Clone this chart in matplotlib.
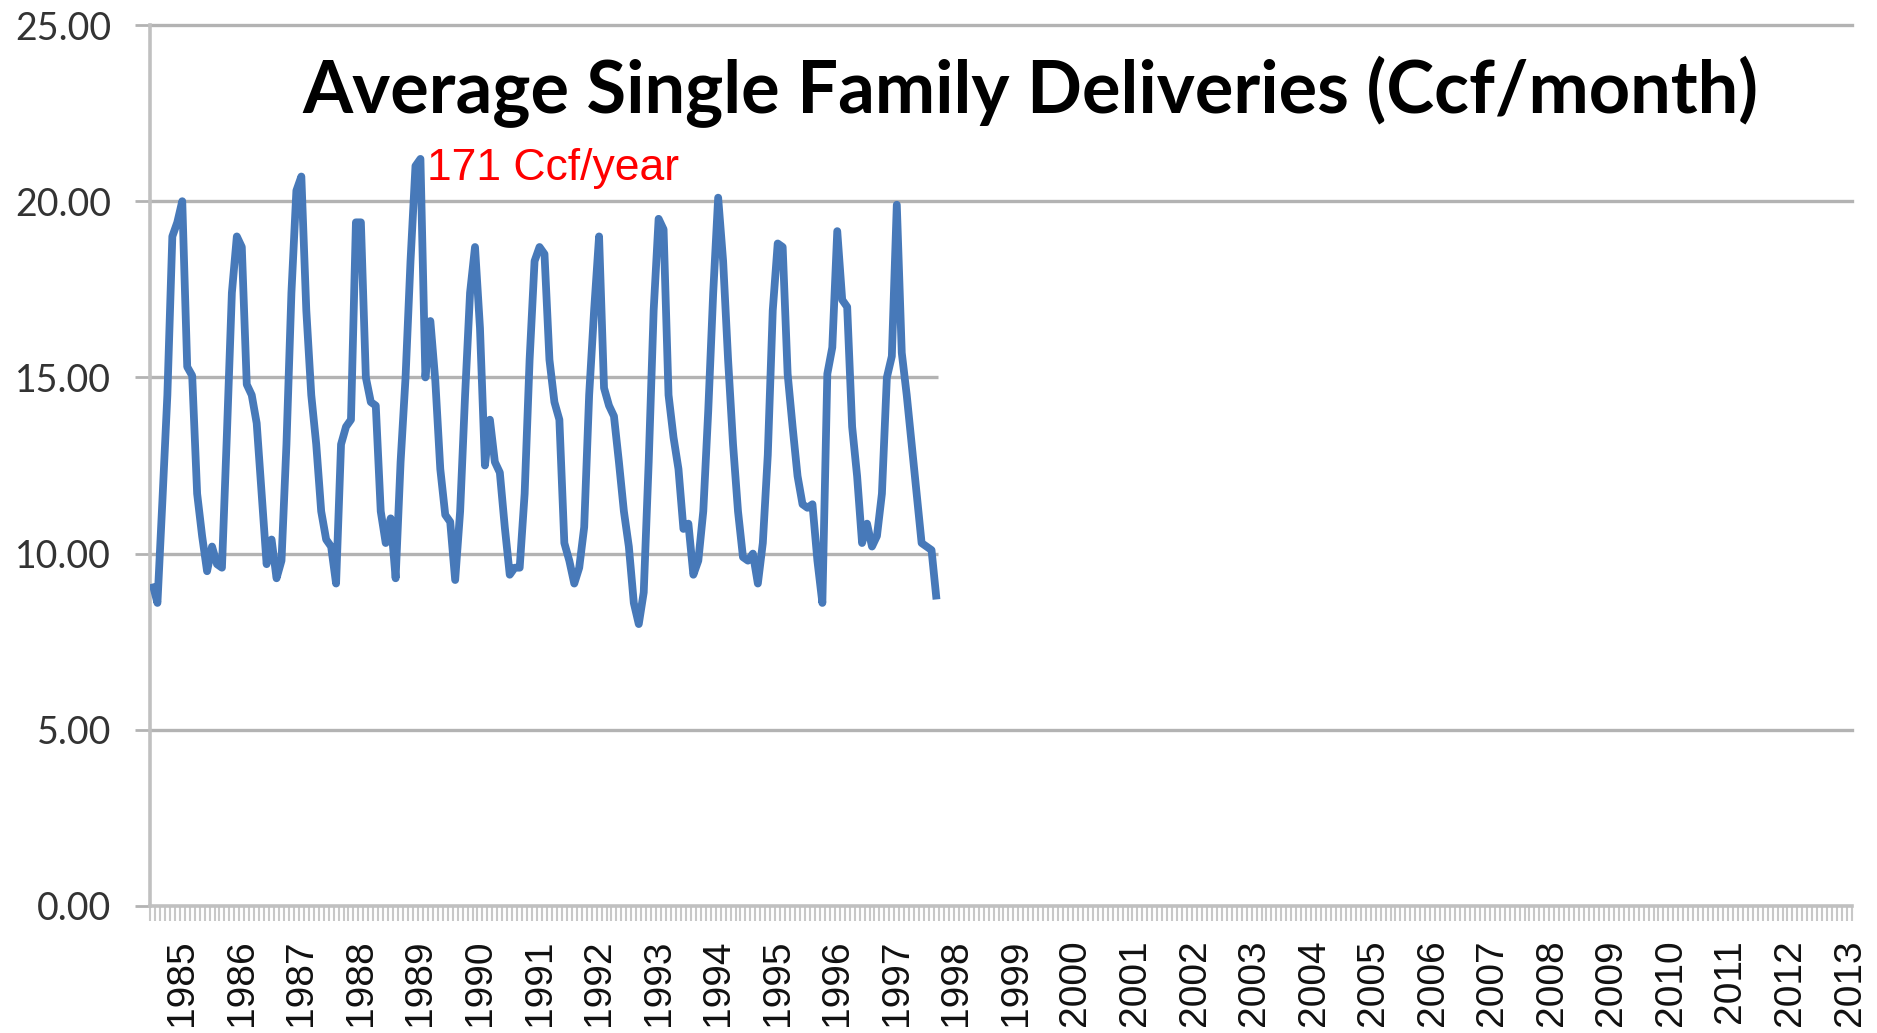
import numpy as np
import matplotlib.pyplot as plt

# monthly average single family deliveries (Ccf/month)
deliveries = [
    9.15, 8.6, 11.5, 14.5, 19.0, 19.4, 20.0, 15.3, 15.05, 11.7, 10.5, 9.5,
    10.2, 9.7, 9.6, 13.4, 17.4, 19.0, 18.7, 14.8, 14.5, 13.7, 11.7, 9.7,
    10.4, 9.3, 9.8, 13.1, 17.4, 20.3, 20.7, 16.9, 14.5, 13.1, 11.2, 10.4,
    10.2, 9.15, 13.1, 13.6, 13.8, 19.4, 19.4, 15.0, 14.3, 14.2, 11.2, 10.3,
    11.0, 9.3, 12.6, 15.0, 18.3, 21.0, 21.2, 15.0, 16.6, 14.9, 12.4, 11.1,
    10.9, 9.25, 11.2, 14.5, 17.4, 18.7, 16.4, 12.5, 13.8, 12.6, 12.3, 10.75,
    9.4, 9.6, 9.6, 11.7, 15.5, 18.3, 18.7, 18.5, 15.5, 14.3, 13.8, 10.3,
    9.8, 9.15, 9.6, 10.75, 14.5, 16.9, 19.0, 14.7, 14.2, 13.9, 12.6, 11.2,
    10.2, 8.6, 8.0, 8.9, 12.6, 16.9, 19.5, 19.2, 14.5, 13.3, 12.4, 10.7,
    10.85, 9.4, 9.8, 11.2, 14.05, 17.4, 20.1, 18.3, 15.5, 13.1, 11.2, 9.9,
    9.8, 10.0, 9.15, 10.3, 12.8, 16.9, 18.8, 18.7, 15.1, 13.6, 12.2, 11.4,
    11.3, 11.4, 9.8, 8.6, 15.1, 15.85, 19.15, 17.2, 17.0, 13.6, 12.2, 10.3,
    10.85, 10.2, 10.5, 11.7, 15.0, 15.6, 19.9, 15.7, 14.5, 13.1, 11.7, 10.3,
    10.2, 10.1, 8.7,
]
n_months = 343          # category axis runs mid-1984 .. early 2013
first_label = 6         # month index of the first year label
years = list(range(1985, 2014))
y_ticks = [0, 5, 10, 15, 20, 25]
short_grid = [10, 15]   # these gridlines stop where the data stops

fig = plt.figure(figsize=(18.77, 10.33), dpi=100)
ax = fig.add_axes([150 / 1877, 1 - 906 / 1033, 1702 / 1877, 881 / 1033])

grid_c = '#b3b3b3'
ax.set_xlim(-0.5, n_months - 0.5)
ax.set_ylim(0, 25)
x = np.arange(len(deliveries))
for y in y_ticks[1:]:
    if y in short_grid:
        ax.hlines(y, -0.5, x[-1] + 0.3, color=grid_c, lw=2.4, zorder=1)
    else:
        ax.axhline(y, color=grid_c, lw=2.4, zorder=1, clip_on=False)

ax.plot(x, deliveries, color='#4779b9', lw=5.6, zorder=3,
        solid_joinstyle='round', solid_capstyle='butt')

for s in ['top', 'right']:
    ax.spines[s].set_visible(False)
for s in ['left', 'bottom']:
    ax.spines[s].set_color('#c0c0c0')
    ax.spines[s].set_linewidth(2.6)

ax.set_yticks(y_ticks)
ax.set_yticklabels([f'{v:.2f}' for v in y_ticks], fontfamily='Lato', fontsize=27,
                   color='#333333')
ax.tick_params(axis='y', length=11, width=2, color=grid_c, pad=17)

tick_pos = [first_label + 12 * k for k in range(len(years))]
ax.set_xticks(tick_pos)
ax.set_xticklabels([str(y) for y in years], rotation=90, fontfamily='Liberation Sans',
                   fontsize=28, color='#111111')
ax.tick_params(axis='x', which='major', length=0, pad=24)
ax.set_xticks(np.arange(n_months + 1) - 0.5, minor=True)
ax.tick_params(axis='x', which='minor', length=11, width=1.5, color='#c8c8c8')

fig.text(0.549, 0.911, 'Average Single Family Deliveries (Ccf/month)', fontfamily='Lato',
         fontweight='bold', fontsize=52, ha='center', va='center', color='black')
fig.text(427 / 1877, 1 - 168 / 1033, '171 Ccf/year', fontfamily='Liberation Sans',
         fontsize=32, color='red', ha='left', va='center')

fig.savefig('out.png', dpi=100)
